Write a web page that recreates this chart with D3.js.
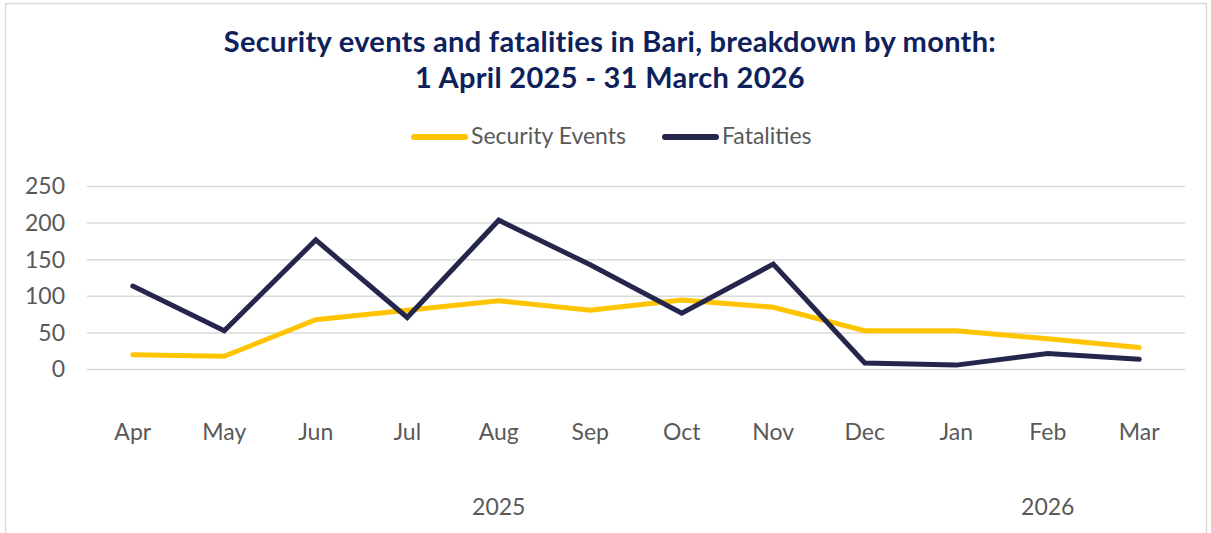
<!DOCTYPE html>
<html><head><meta charset="utf-8">
<script src="https://cdn.jsdelivr.net/npm/d3@7"></script>
<style>
html,body{margin:0;padding:0;background:#fff;}
svg{display:block;}
text{font-family:Lato, "Open Sans", sans-serif;}
</style></head>
<body>
<svg id="chart" width="1211" height="533"></svg>
<script>
const months = ["Apr","May","Jun","Jul","Aug","Sep","Oct","Nov","Dec","Jan","Feb","Mar"];
const securityEvents = [20,18,68,81,94,81,95,85,53,53,42,30];
const fatalities = [114,53,177,71,204,143,77,144,9,6,22,14];
const yTicks = [0,50,100,150,200,250];
const years = [{label:"2025", from:"Apr", to:"Dec"},{label:"2026", from:"Jan", to:"Mar"}];
const seriesNames = ["Security Events","Fatalities"];
const colors = ["#FFC400","#25264B"];

const svg = d3.select("#chart");
svg.append("rect").attr("x",5.5).attr("y",3.5).attr("width",1201).attr("height",560)
  .attr("fill","none").attr("stroke","#d9d9d9").attr("stroke-width",1.5);

svg.append("text").attr("x",610).attr("y",52).attr("text-anchor","middle")
  .attr("font-size",29).attr("font-weight",700).attr("fill","#0E215B").attr("letter-spacing",0.3)
  .text("Security events and fatalities in Bari, breakdown by month:");
svg.append("text").attr("x",610).attr("y",88).attr("text-anchor","middle")
  .attr("font-size",29).attr("font-weight",700).attr("fill","#0E215B").attr("letter-spacing",0.3)
  .text("1 April 2025 - 31 March 2026");

const x = d3.scaleBand().domain(months).range([87,1185]);
const y = d3.scaleLinear().domain([0,250]).range([369.5,186.5]);

const grid = svg.append("g");
grid.selectAll("line").data(yTicks).join("line")
  .attr("x1",87).attr("x2",1185).attr("y1",d=>y(d)).attr("y2",d=>y(d))
  .attr("stroke","#d9d9d9").attr("stroke-width",1.5);

const yAxis = svg.append("g").attr("transform","translate(87,0)")
  .call(d3.axisLeft(y).tickValues(yTicks).tickSize(0).tickPadding(22));
yAxis.select(".domain").remove();
yAxis.selectAll("text").attr("font-size",23).attr("fill","#595959").attr("font-family","Lato, sans-serif");

const xAxis = svg.append("g").attr("transform","translate(0,440)")
  .call(d3.axisBottom(x).tickSize(0).tickPadding(0));
xAxis.select(".domain").remove();
xAxis.selectAll("text").attr("font-size",23).attr("fill","#595959").attr("font-family","Lato, sans-serif").attr("y",0).attr("dy",0);

svg.selectAll(".year").data(years).join("text").attr("class","year")
  .attr("x",d=>(x(d.from)+x(d.to)+x.bandwidth())/2).attr("y",515)
  .attr("text-anchor","middle").attr("font-size",23).attr("fill","#595959").text(d=>d.label);

const line = d3.line().x((d,i)=>x(months[i])+x.bandwidth()/2).y(d=>y(d));
[securityEvents, fatalities].forEach((s,k)=>{
  svg.append("path").datum(s).attr("d",line).attr("fill","none")
    .attr("stroke",colors[k]).attr("stroke-width",5).attr("stroke-linejoin","miter").attr("stroke-linecap","round");
});

// legend
const legX = [412,663];
seriesNames.forEach((n,k)=>{
  svg.append("line").attr("x1",legX[k]+2).attr("x2",legX[k]+53).attr("y1",137).attr("y2",137)
    .attr("stroke",colors[k]).attr("stroke-width",6).attr("stroke-linecap","round");
  svg.append("text").attr("x",legX[k]+59).attr("y",144).attr("font-size",23).attr("fill","#595959").text(n);
});
</script>
</body></html>
